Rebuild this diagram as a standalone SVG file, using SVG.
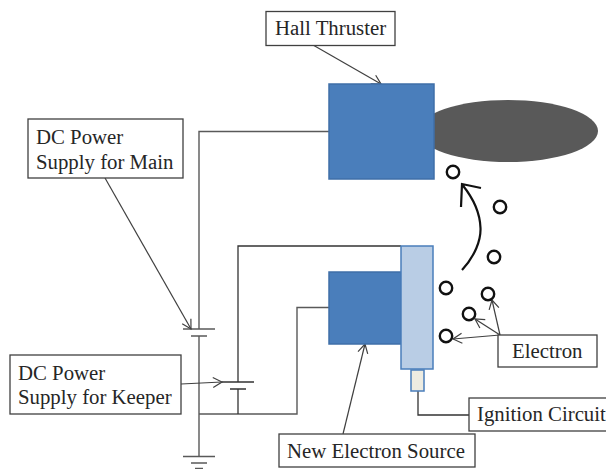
<svg xmlns="http://www.w3.org/2000/svg" width="606" height="469" viewBox="0 0 606 469">
<style>
.box{fill:#fff;stroke:#404040;stroke-width:1.3}
.t{font-family:"Liberation Serif","Times New Roman",serif;font-size:20.800px;fill:#262626}
.w{fill:none;stroke:#595959;stroke-width:1.4}
.k{fill:none;stroke:#333;stroke-width:1.3}
.a{fill:none;stroke:#404040;stroke-width:1.2;marker-end:url(#arr)}
.e{fill:#fff;stroke:#111;stroke-width:2.4}
.b{fill:#4a7ebb;stroke:#3f6fa8;stroke-width:1.5}
</style>
<defs>
<marker id="arr" markerUnits="userSpaceOnUse" markerWidth="14" markerHeight="14" refX="10" refY="6" orient="auto"><path d="M1 1L10 6L1 11" fill="none" stroke="#404040" stroke-width="1.2"/></marker>
</defs>
<g id="plume"><ellipse cx="508" cy="131" rx="90" ry="31" fill="#595959"/></g>
<g id="connectors">
<path class="w" d="M329 131.500H199V329M199 336V456.500M199 414H297V307.500H329"/>
<path class="k" d="M238 382V246H401M238 389V414M418 391V415H469"/>
<path class="w" d="M183 329H215M191 336H207M183 456.500H215M191 463H207M195 468.500H203"/>
<path class="k" d="M222 382H254M230 389H246"/>
<path class="a" d="M313 45L381 84"/>
<path class="a" d="M105 178L191 329"/>
<path class="a" d="M181 384L222 382"/>
<path class="a" d="M343 434L365 344"/>
<path class="a" d="M500 335L453 339"/>
<path class="a" d="M500 335L475 319"/>
<path class="a" d="M500 335L492 300"/>
<path d="M462 270C475 256 481 240 480.500 228C480 212 473 198 462.500 185M481 188L462 184L461 207" fill="none" stroke="#111" stroke-width="2.200"/>
</g>
<g id="hall-thruster"><rect class="b" x="329" y="84" width="105" height="95"/></g>
<g id="electron-source"><rect class="b" x="329" y="272" width="72" height="72"/></g>
<g id="electrode"><rect x="401" y="246" width="32" height="123" fill="#b9cde5" stroke="#4a7ebb" stroke-width="1.500"/></g>
<g id="igniter"><rect x="411" y="370" width="13" height="21" fill="#eeece1" stroke="#4a7ebb" stroke-width="1.500"/></g>
<g id="electrons">
<circle class="e" cx="453" cy="172" r="6.200"/>
<circle class="e" cx="500" cy="207" r="6.200"/>
<circle class="e" cx="494" cy="257" r="6.200"/>
<circle class="e" cx="446" cy="288" r="6.200"/>
<circle class="e" cx="488" cy="294" r="6.200"/>
<circle class="e" cx="469" cy="314" r="6.200"/>
<circle class="e" cx="446" cy="336" r="6.200"/>
</g>
<g id="label-hall"><rect class="box" x="266" y="11.500" width="129" height="34"/><text class="t" x="275" y="35">Hall Thruster</text></g>
<g id="label-main"><rect class="box" x="28" y="119" width="155" height="59"/><text class="t" x="36" y="144">DC Power</text><text class="t" x="36" y="169">Supply for Main</text></g>
<g id="label-keeper"><rect class="box" x="10" y="355" width="171" height="59"/><text class="t" x="18" y="380">DC Power</text><text class="t" x="18" y="404">Supply for Keeper</text></g>
<g id="label-electron"><rect class="box" x="498" y="335" width="99" height="32"/><text class="t" x="512" y="358">Electron</text></g>
<g id="label-ignition"><rect class="box" x="469" y="398" width="140" height="33"/><text class="t" x="477" y="421">Ignition Circuit</text></g>
<g id="label-source"><rect class="box" x="279" y="434" width="196" height="33"/><text class="t" x="287" y="458">New Electron Source</text></g>
</svg>
